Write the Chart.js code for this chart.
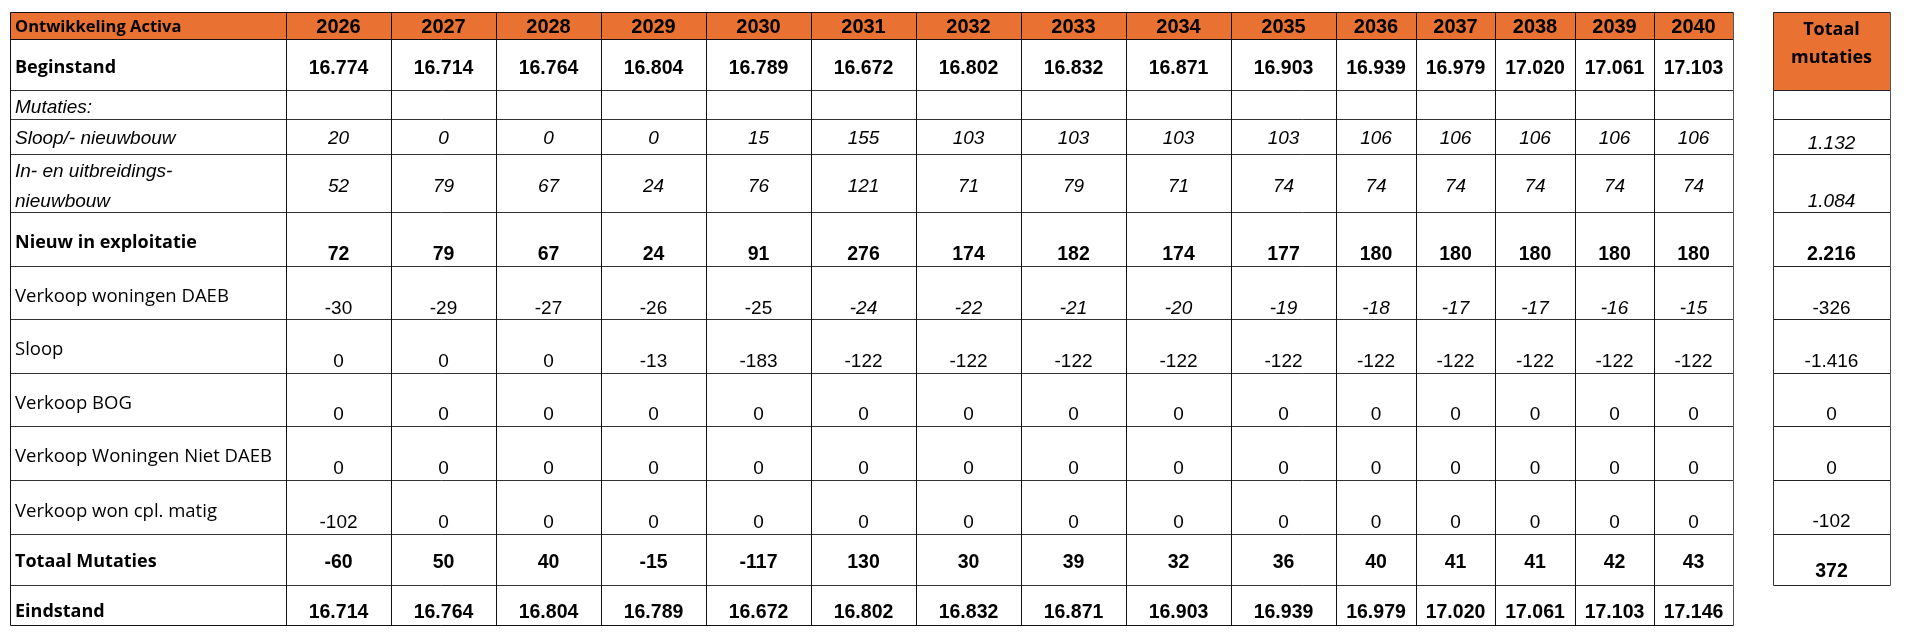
<!DOCTYPE html>
<html><head><meta charset="utf-8">
<script src="https://cdn.jsdelivr.net/npm/chart.js@4"></script>
<style>html,body{margin:0;padding:0;background:#fff}#wrap{width:1920px;height:638px;position:relative}</style>
</head><body><div id="wrap"><canvas id="c"></canvas></div>
<script>
// ---------- DATA ----------
const headerTitle = 'Ontwikkeling Activa';
const totalHeader = ['Totaal', 'mutaties'];
const years = [2026,2027,2028,2029,2030,2031,2032,2033,2034,2035,2036,2037,2038,2039,2040];
const rowLabels = ['Beginstand','Mutaties:','Sloop/- nieuwbouw',['In- en uitbreidings-','nieuwbouw'],'Nieuw in exploitatie','Verkoop woningen DAEB','Sloop','Verkoop BOG','Verkoop Woningen Niet DAEB','Verkoop won cpl. matig','Totaal Mutaties','Eindstand'];
const beginstand      = [16774,16714,16764,16804,16789,16672,16802,16832,16871,16903,16939,16979,17020,17061,17103];
const sloopNieuwbouw  = [20,0,0,0,15,155,103,103,103,103,106,106,106,106,106];
const uitbreiding     = [52,79,67,24,76,121,71,79,71,74,74,74,74,74,74];
const nieuwExpl       = [72,79,67,24,91,276,174,182,174,177,180,180,180,180,180];
const verkoopDaeb     = [-30,-29,-27,-26,-25,-24,-22,-21,-20,-19,-18,-17,-17,-16,-15];
const sloop           = [0,0,0,-13,-183,-122,-122,-122,-122,-122,-122,-122,-122,-122,-122];
const verkoopBog      = [0,0,0,0,0,0,0,0,0,0,0,0,0,0,0];
const verkoopNietDaeb = [0,0,0,0,0,0,0,0,0,0,0,0,0,0,0];
const verkoopCpl      = [-102,0,0,0,0,0,0,0,0,0,0,0,0,0,0];
const totaalMutaties  = [-60,50,40,-15,-117,130,30,39,32,36,40,41,41,42,43];
const eindstand       = [16714,16764,16804,16789,16672,16802,16832,16871,16903,16939,16979,17020,17061,17103,17146];
const totaalKolom     = [null,null,1132,1084,2216,-326,-1416,0,0,-102,372,null];
const rowValues = [beginstand,null,sloopNieuwbouw,uitbreiding,nieuwExpl,verkoopDaeb,sloop,verkoopBog,verkoopNietDaeb,verkoopCpl,totaalMutaties,eindstand];

// ---------- LAYOUT (scale units) ----------
const colEdges = [10,286,391,496,601,706,811,916,1021,1126,1231,1336,1416,1495,1575,1654,1733];
const totCol = [1773,1890];
const rowEdges = [12,39,90,119,154,212,266,319,373,426,480,534,585,625];
const ORANGE = '#E97132';
const NUM = "'Liberation Sans', Arial, sans-serif";
const LAB = "'Open Sans', Roboto, sans-serif";
const LR = '18.5px ' + LAB, LB = 'bold 18px ' + LAB;
// per body row: label font, label y (centre), value font, value y, total y, italic-from index
const rowStyle = [
  {lf:LB, ly:[67], vf:'bold 19.5px '+NUM, vy:67},
  {lf:'italic 19px '+NUM, ly:[106], vf:null, vy:106},
  {lf:'italic 19px '+NUM, ly:[137], vf:'italic 19px '+NUM, vy:137, ty:142},
  {lf:'italic 19px '+NUM, ly:[170,200], vf:'italic 19px '+NUM, vy:185, ty:200},
  {lf:LB, ly:[242], vf:'bold 19.5px '+NUM, vy:253, ty:253},
  {lf:LR, ly:[295], vf:'19px '+NUM, vy:307, ty:307, italicFrom:5, itf:'italic 19px '+NUM},
  {lf:LR, ly:[348], vf:'19px '+NUM, vy:360, ty:360},
  {lf:LR, ly:[402], vf:'19px '+NUM, vy:413, ty:413},
  {lf:LR, ly:[455], vf:'19px '+NUM, vy:467, ty:467},
  {lf:LR, ly:[510], vf:'19px '+NUM, vy:521, ty:520},
  {lf:LB, ly:[561], vf:'bold 19.5px '+NUM, vy:561, ty:570},
  {lf:LB, ly:[611], vf:'bold 19.5px '+NUM, vy:611}
];
const totFont = {2:'italic 19px '+NUM,3:'italic 19px '+NUM,4:'bold 19.5px '+NUM,10:'bold 19.5px '+NUM};

function fmt(v){
  const neg = v < 0; let s = String(Math.abs(v));
  s = s.replace(/\B(?=(\d{3})+(?!\d))/g, '.');
  return (neg ? '-' : '') + s;
}
function capOf(font){ const m = font.match(/([\d.]+)px/); return parseFloat(m[1]) * 0.36; }

const tablePlugin = {
  id: 'tablePlugin',
  afterDraw(chart){
    const {ctx, scales:{x, y}} = chart;
    const X = v => x.getPixelForValue(v), Y = v => y.getPixelForValue(v);
    ctx.save();
    // header fills
    ctx.fillStyle = ORANGE;
    ctx.fillRect(X(colEdges[0]), Y(rowEdges[0]), X(colEdges[colEdges.length-1]) - X(colEdges[0]), Y(rowEdges[1]) - Y(rowEdges[0]));
    ctx.fillRect(X(totCol[0]), Y(rowEdges[0]), X(totCol[1]) - X(totCol[0]), Y(rowEdges[2]) - Y(rowEdges[0]));
    // grid lines
    const line = (x1,y1,x2,y2,col,w) => { ctx.beginPath(); ctx.strokeStyle = col; ctx.lineWidth = w;
      ctx.moveTo(Math.round(X(x1))+0.5, Math.round(Y(y1))+0.5); ctx.lineTo(Math.round(X(x2))+0.5, Math.round(Y(y2))+0.5); ctx.stroke(); };
    const xL = colEdges[0], xR = colEdges[colEdges.length-1], yT = rowEdges[0], yB = rowEdges[rowEdges.length-1];
    rowEdges.forEach((r,i) => line(xL, r, xR, r, (i===0||i===1||i===rowEdges.length-1) ? '#111' : '#333', 1));
    colEdges.forEach((c,i) => line(c, yT, c, yB, i===colEdges.length-1 ? '#555' : '#111', 1));
    rowEdges.forEach((r,i) => { if (i !== 1 && i <= 12) line(totCol[0], r, totCol[1], r, '#222', 1); });
    line(totCol[0], yT, totCol[0], rowEdges[12], '#333', 1);
    line(totCol[1], yT, totCol[1], rowEdges[12], '#555', 1);
    // text
    ctx.fillStyle = '#000';
    const txt = (s, font, cx, cy, align) => { ctx.font = font; ctx.textAlign = align; ctx.textBaseline = 'alphabetic';
      ctx.fillText(s, X(cx), Y(cy) + capOf(font)); };
    txt(headerTitle, 'bold 16.5px ' + LAB, 15, 26, 'left');
    years.forEach((yr,i) => txt(String(yr), 'bold 20px '+NUM, (colEdges[i+1]+colEdges[i+2])/2, 26, 'center'));
    const tcx = (totCol[0]+totCol[1])/2;
    txt(totalHeader[0], 'bold 18px '+LAB, tcx, 29, 'center');
    txt(totalHeader[1], 'bold 18px '+LAB, tcx, 57, 'center');
    rowLabels.forEach((lab, r) => {
      const st = rowStyle[r];
      const parts = Array.isArray(lab) ? lab : [lab];
      parts.forEach((p,k) => txt(p, st.lf, 15, st.ly[k], 'left'));
      const vals = rowValues[r];
      if (vals) vals.forEach((v,i) => {
        const f = (st.italicFrom !== undefined && i >= st.italicFrom) ? st.itf : st.vf;
        txt(fmt(v), f, (colEdges[i+1]+colEdges[i+2])/2, st.vy, 'center');
      });
      if (totaalKolom[r] !== null) txt(fmt(totaalKolom[r]), totFont[r] || st.vf, tcx, st.ty, 'center');
    });
    ctx.restore();
  }
};

new Chart(document.getElementById('c'), {
  type: 'scatter',
  data: { datasets: [] },
  options: {
    responsive: true, maintainAspectRatio: false, animation: false, events: [],
    layout: { padding: 0 },
    plugins: { legend: { display: false }, tooltip: { enabled: false } },
    scales: {
      x: { type: 'linear', min: 0, max: 1920, display: false },
      y: { type: 'linear', min: 0, max: 638, reverse: true, display: false }
    }
  },
  plugins: [tablePlugin]
});
</script></body></html>
